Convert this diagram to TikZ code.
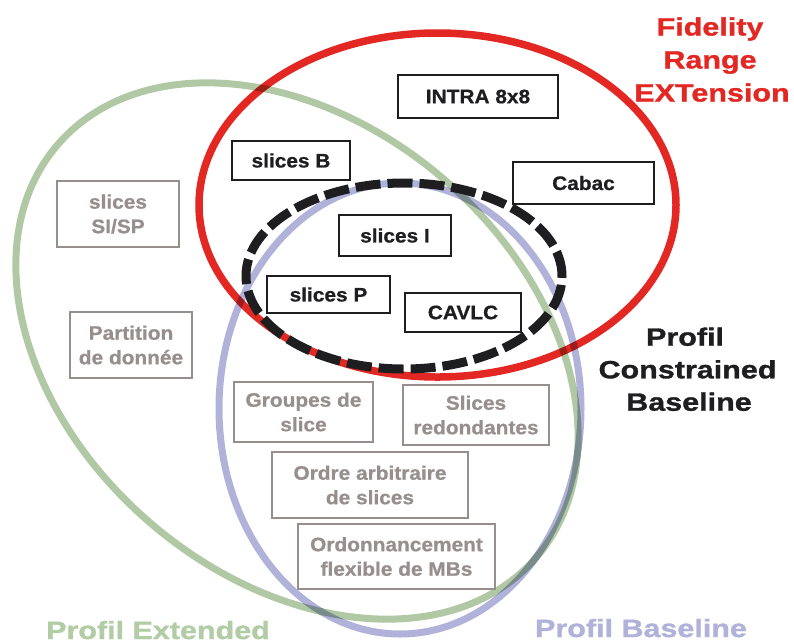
\documentclass[tikz,border=0pt]{standalone}
\usepackage{fontspec}
\setmainfont{Liberation Sans}[FakeStretch=1.07, BoldFeatures={FakeBold=0.8}]
\newfontfamily\lblfamily{Liberation Sans}[FakeStretch=1.22, BoldFeatures={FakeBold=1.2}]
\definecolor{redc}{RGB}{227,39,34}
\definecolor{greenc}{RGB}{176,200,164}
\definecolor{bluec}{RGB}{176,178,218}
\definecolor{ink}{RGB}{30,30,32}
\definecolor{grayc}{RGB}{151,143,141}
\definecolor{greentext}{RGB}{178,204,166}
\definecolor{bluetext}{RGB}{176,178,218}
\newcommand\boxfont{\fontsize{19.5}{24.5}\selectfont\bfseries}
\newcommand\lblfont{\lblfamily\fontsize{25}{30}\selectfont\bfseries}
\begin{document}
\begin{tikzpicture}[x=1pt,y=-1pt,
  ring/.style={line width=7pt},
  bbox/.style={draw=ink, line width=1.8pt, text=ink, inner sep=0pt, align=center, font=\boxfont},
  gbox/.style={draw=grayc, line width=1.8pt, text=grayc, inner sep=0pt, align=center, font=\boxfont},
  lbl/.style={anchor=base, inner sep=0pt, font=\lblfont}]
\useasboundingbox (0,0) rectangle (794,641);

% profile ellipses
\begin{scope}[blend mode=multiply]
  \draw[ring, greenc, rotate around={-40.8:(297,351)}] (297,351) ellipse [x radius=316pt, y radius=226pt];
  \draw[ring, bluec] (400,408.5) ellipse [x radius=181pt, y radius=225.5pt];
  \draw[ring, redc, line width=7.5pt] (437.5,205) ellipse [x radius=238.5pt, y radius=172pt];
\end{scope}
\draw[line width=9pt, ink, dash pattern=on 25pt off 7pt] (404,276) ellipse [x radius=158pt, y radius=93pt];

% black boxes
\node[bbox, minimum width=160pt, minimum height=43pt] (intra) at (478,96.5) {INTRA 8x8};
\node[bbox, minimum width=118pt, minimum height=39pt] (sliceB) at (291,160.5) {slices B};
\node[bbox, minimum width=141pt, minimum height=42pt] (cabac) at (583.5,183) {Cabac};
\node[bbox, minimum width=112pt, minimum height=41pt] (sliceI) at (395,235.5) {slices I};
\node[bbox, minimum width=123pt, minimum height=37pt] (sliceP) at (328.5,294.5) {slices P};
\node[bbox, minimum width=116pt, minimum height=39pt] (cavlc) at (463,312.5) {CAVLC};

% gray boxes
\node[gbox, minimum width=122pt, minimum height=66pt] (sisp) at (118,214) {slices\\SI/SP};
\node[gbox, minimum width=122pt, minimum height=66pt] (partition) at (131,345) {Partition\\de donnée};
\node[gbox, minimum width=139pt, minimum height=60pt] (groupes) at (303.5,412) {Groupes de\\slice};
\node[gbox, minimum width=146pt, minimum height=60pt] (redond) at (476,415) {Slices\\redondantes};
\node[gbox, minimum width=196pt, minimum height=66pt] (ordre) at (370,485) {Ordre arbitraire\\de slices};
\node[gbox, minimum width=197pt, minimum height=65pt] (ordonn) at (396.5,556.5) {Ordonnancement\\flexible de MBs};

% labels
\node[lbl, text=redc] (fid1) at (710,35.5) {Fidelity};
\node[lbl, text=redc] (fid2) at (710,68.5) {Range};
\node[lbl, text=redc] (fid3) at (712,101.5) {EXTension};
\node[lbl, text=ink] (cb1) at (685,345.7) {Profil};
\node[lbl, text=ink] (cb2) at (687.5,378.3) {Constrained};
\node[lbl, text=ink] (cb3) at (689,410.7) {Baseline};
\node[lbl, text=greentext] (ext) at (158,639) {Profil Extended};
\node[lbl, text=bluetext] (base) at (641,637) {Profil Baseline};
\end{tikzpicture}
\end{document}
